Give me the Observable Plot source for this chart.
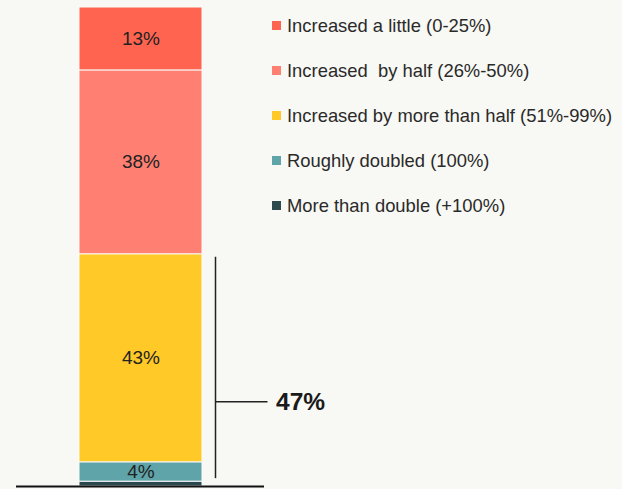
<!DOCTYPE html>
<html>
<head>
<meta charset="utf-8">
<script src="https://cdn.jsdelivr.net/npm/d3@7"></script>
<script src="https://cdn.jsdelivr.net/npm/@observablehq/plot@0.6"></script>
<style>
  html, body { margin: 0; padding: 0; background: #f8f8f4; }
  #chart { position: relative; width: 622px; height: 489px; font-family: "Liberation Sans", Arial, sans-serif; }
  #legend { position: absolute; left: 272px; top: 3px; }
  .item { display: flex; align-items: center; height: 45px; font-size: 18.4px; color: #2a2a2a; white-space: pre; }
  .sw { width: 9px; height: 9px; margin-right: 6px; flex: none; }
</style>
</head>
<body>
<div id="chart"></div>
<script>
// Categories listed top of the bar to bottom
const categories = [
  "Increased a little (0-25%)",
  "Increased  by half (26%-50%)",
  "Increased by more than half (51%-99%)",
  "Roughly doubled (100%)",
  "More than double (+100%)"
];
const values = [13, 38, 43, 4, 1];
const colors = ["#ff6450", "#ff7f73", "#ffc928", "#5fa4a8", "#2c4a4e"];
const calloutParts = [2, 3];        // indices summed in the bracket (43% + 4%)
const calloutTickAt = 17.5;         // y value where the callout tick sits

// Build stack bottom-up
const rows = [];
let acc = 0;
for (let i = categories.length - 1; i >= 0; i--) {
  rows.push({cat: categories[i], value: values[i], color: colors[i], y1: acc, y2: acc + values[i], mid: acc + values[i] / 2, bar: "bar"});
  acc += values[i];
}
const total = acc;
const bracketRows = rows.filter(r => calloutParts.includes(categories.indexOf(r.cat)));
const bracket = {
  bar: "bar",
  y1: d3.min(bracketRows, r => r.y1),
  y2: d3.max(bracketRows, r => r.y2),
  sum: d3.sum(bracketRows, r => r.value)
};

const chart = Plot.plot({
  width: 622,
  height: 489,
  marginTop: 7,
  marginBottom: 3,
  marginLeft: 16,
  marginRight: 358,
  style: {background: "transparent", fontFamily: "'Liberation Sans', Arial, sans-serif"},
  x: {type: "band", domain: ["bar"], paddingInner: 0, paddingOuter: 0.508, axis: null},
  y: {domain: [0, total], axis: null},
  marks: [
    Plot.barY(rows, {x: "bar", y1: "y1", y2: "y2", fill: "color", stroke: "#fafaf6", strokeWidth: 1}),
    Plot.text(rows.filter(r => r.value >= 3), {x: "bar", y: "mid", text: r => r.value + "%", fontSize: 19, fill: "#222"}),
    // bracket: a thin bar spanning the summed segments, offset to the right of the column
    Plot.barY([bracket], {x: "bar", y1: "y1", y2: "y2", dx: 75, fill: "#222", insetLeft: 60.75, insetRight: 60.75, insetTop: 3, insetBottom: 3}),
    Plot.tickY([bracket], {x: "bar", y: () => calloutTickAt, dx: 136.5, insetRight: 71, stroke: "#222", strokeWidth: 1.5}),
    Plot.text([bracket], {x: "bar", y: () => calloutTickAt, text: d => d.sum + "%", dx: 135, textAnchor: "start", fontSize: 24.5, fontWeight: "bold", fill: "#1a1a1a"}),
    Plot.ruleY([0], {stroke: "#111", strokeWidth: 2})
  ]
});

const container = document.getElementById("chart");
container.appendChild(chart);
const legend = document.createElement("div");
legend.id = "legend";
categories.forEach((c, i) => {
  const item = document.createElement("div");
  item.className = "item";
  const sw = document.createElement("span");
  sw.className = "sw";
  sw.style.background = colors[i];
  const t = document.createElement("span");
  t.textContent = c;
  item.appendChild(sw);
  item.appendChild(t);
  legend.appendChild(item);
});
container.appendChild(legend);
</script>
</body>
</html>
